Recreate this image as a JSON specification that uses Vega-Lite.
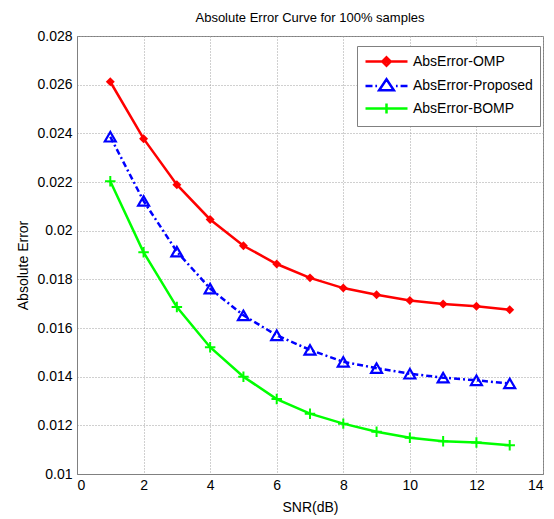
{
  "$schema": "https://vega.github.io/schema/vega-lite/v6.json",
  "autosize": "none",
  "width": 466,
  "height": 438,
  "padding": {"left": 77, "top": 36, "right": 11, "bottom": 45},
  "background": "white",
  "title": {"text": "Absolute Error Curve for 100% samples", "font": "Liberation Sans", "fontSize": 13, "fontWeight": "normal", "color": "black", "offset": 4},
  "config": {
    "view": {"stroke": "#808080", "strokeWidth": 1},
    "axis": {
      "labelFont": "Liberation Sans", "labelFontSize": 14, "labelColor": "black",
      "titleFont": "Liberation Sans", "titleFontSize": 14, "titleFontWeight": "normal", "titleColor": "black",
      "domainColor": "#808080", "ticks": false,
      "gridColor": "#a0a0a0", "gridDash": [1, 2], "gridWidth": 1
    },
    "legend": {
      "labelFont": "Liberation Sans", "labelFontSize": 14, "labelColor": "black"
    }
  },
  "data": {
    "values": [
      {"series": "AbsError-OMP", "snr": 1, "err": 0.02612},
      {"series": "AbsError-OMP", "snr": 2, "err": 0.02378},
      {"series": "AbsError-OMP", "snr": 3, "err": 0.02189},
      {"series": "AbsError-OMP", "snr": 4, "err": 0.02046},
      {"series": "AbsError-OMP", "snr": 5, "err": 0.01938},
      {"series": "AbsError-OMP", "snr": 6, "err": 0.01863},
      {"series": "AbsError-OMP", "snr": 7, "err": 0.01806},
      {"series": "AbsError-OMP", "snr": 8, "err": 0.01764},
      {"series": "AbsError-OMP", "snr": 9, "err": 0.01737},
      {"series": "AbsError-OMP", "snr": 10, "err": 0.01713},
      {"series": "AbsError-OMP", "snr": 11, "err": 0.01699},
      {"series": "AbsError-OMP", "snr": 12, "err": 0.01689},
      {"series": "AbsError-OMP", "snr": 13, "err": 0.01675},
      {"series": "AbsError-Proposed", "snr": 1, "err": 0.02386},
      {"series": "AbsError-Proposed", "snr": 2, "err": 0.02122},
      {"series": "AbsError-Proposed", "snr": 3, "err": 0.01914},
      {"series": "AbsError-Proposed", "snr": 4, "err": 0.01762},
      {"series": "AbsError-Proposed", "snr": 5, "err": 0.01652},
      {"series": "AbsError-Proposed", "snr": 6, "err": 0.0157},
      {"series": "AbsError-Proposed", "snr": 7, "err": 0.0151},
      {"series": "AbsError-Proposed", "snr": 8, "err": 0.01461},
      {"series": "AbsError-Proposed", "snr": 9, "err": 0.01435},
      {"series": "AbsError-Proposed", "snr": 10, "err": 0.01412},
      {"series": "AbsError-Proposed", "snr": 11, "err": 0.01396},
      {"series": "AbsError-Proposed", "snr": 12, "err": 0.01385},
      {"series": "AbsError-Proposed", "snr": 13, "err": 0.01372},
      {"series": "AbsError-BOMP", "snr": 1, "err": 0.02203},
      {"series": "AbsError-BOMP", "snr": 2, "err": 0.01911},
      {"series": "AbsError-BOMP", "snr": 3, "err": 0.01686},
      {"series": "AbsError-BOMP", "snr": 4, "err": 0.01521},
      {"series": "AbsError-BOMP", "snr": 5, "err": 0.014},
      {"series": "AbsError-BOMP", "snr": 6, "err": 0.01308},
      {"series": "AbsError-BOMP", "snr": 7, "err": 0.01248},
      {"series": "AbsError-BOMP", "snr": 8, "err": 0.01207},
      {"series": "AbsError-BOMP", "snr": 9, "err": 0.01174},
      {"series": "AbsError-BOMP", "snr": 10, "err": 0.01149},
      {"series": "AbsError-BOMP", "snr": 11, "err": 0.01135},
      {"series": "AbsError-BOMP", "snr": 12, "err": 0.01129},
      {"series": "AbsError-BOMP", "snr": 13, "err": 0.01118}
    ]
  },
  "encoding": {
    "x": {"field": "snr", "type": "quantitative", "title": "SNR(dB)",
      "scale": {"domain": [0, 14], "nice": false},
      "axis": {"values": [0, 2, 4, 6, 8, 10, 12, 14], "labelPadding": 4, "titlePadding": 8}},
    "y": {"field": "err", "type": "quantitative", "title": "Absolute Error",
      "scale": {"domain": [0.01, 0.028], "nice": false, "zero": false},
      "axis": {"values": [0.01, 0.012, 0.014, 0.016, 0.018, 0.02, 0.022, 0.024, 0.026, 0.028], "format": "~g", "labelPadding": 5, "titlePadding": 6, "titleY": 229}}
  },
  "layer": [
    {"transform": [{"filter": "datum.series == 'AbsError-OMP'"}],
     "mark": {"type": "line", "color": "#ff0000", "strokeWidth": 2.5}},
    {"transform": [{"filter": "datum.series == 'AbsError-OMP'"}],
     "mark": {"type": "point", "shape": "diamond", "filled": true, "color": "#ff0000", "size": 80, "opacity": 1}},
    {"transform": [{"filter": "datum.series == 'AbsError-Proposed'"}],
     "mark": {"type": "line", "color": "#0000ff", "strokeWidth": 2.5, "strokeDash": [6, 3, 2, 3]}},
    {"transform": [{"filter": "datum.series == 'AbsError-Proposed'"}],
     "mark": {"type": "point", "shape": "triangle-up", "filled": false, "color": "#0000ff", "size": 120, "strokeWidth": 2.2, "opacity": 1}},
    {"transform": [{"filter": "datum.series == 'AbsError-BOMP'"}],
     "mark": {"type": "line", "color": "#00ff00", "strokeWidth": 2.5}},
    {"transform": [{"filter": "datum.series == 'AbsError-BOMP'"}],
     "mark": {"type": "point", "shape": "M-1,0H1M0,-1V1", "filled": false, "color": "#00ff00", "size": 110, "strokeWidth": 2, "opacity": 1}},
    {"transform": [{"filter": "false"}],
     "mark": {"type": "point", "filled": false, "opacity": 1, "strokeWidth": 2.5},
     "encoding": {
       "x": null, "y": null,
       "color": {"field": "series", "type": "nominal",
         "scale": {"domain": ["AbsError-OMP", "AbsError-Proposed", "AbsError-BOMP"], "range": ["#ff0000", "#0000ff", "#00ff00"]},
         "legend": {"title": null, "orient": "none", "legendX": 280, "legendY": 10,
           "symbolSize": 196, "symbolStrokeWidth": 2.5, "labelOffset": 32, "padding": 7, "rowPadding": 2.5,
           "strokeColor": "#808080", "fillColor": "white", "labelFontSize": 14, "labelFont": "Liberation Sans"}},
       "shape": {"field": "series", "type": "nominal",
         "scale": {"domain": ["AbsError-OMP", "AbsError-Proposed", "AbsError-BOMP"],
           "range": [
             "M-1,0H5M2,-0.6L2.6,0L2,0.6L1.4,0ZM2,-0.3V0.3M1.7,0H2.3",
             "M-1,0H0M0.41,0H0.65M0.95,0.6L2,-0.96L3.05,0.6ZM3.35,0H3.59M4.01,0H5",
             "M-1,0H5M2,-0.72V0.72"
           ]},
         "legend": {"title": null, "orient": "none", "legendX": 280, "legendY": 10,
           "symbolSize": 196, "symbolStrokeWidth": 2.5, "labelOffset": 32, "padding": 7, "rowPadding": 2.5,
           "strokeColor": "#808080", "fillColor": "white", "labelFontSize": 14, "labelFont": "Liberation Sans"}}
     }}
  ]
}
